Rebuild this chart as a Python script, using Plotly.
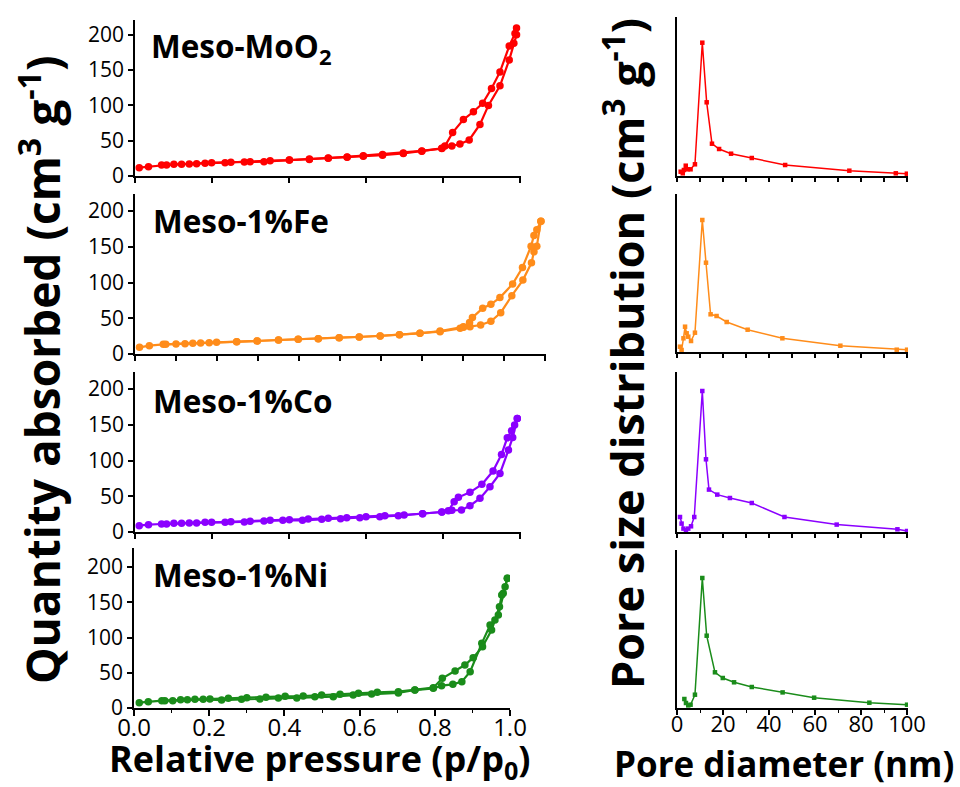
import plotly.graph_objects as go

W, H = 960, 787

# ---------------- Isotherm data (relative pressure, quantity adsorbed) ----------------
moo2_ads_p = [0.011, 0.035, 0.069, 0.101, 0.141, 0.182, 0.234, 0.284, 0.335, 0.401, 0.453, 0.502, 0.551,
              0.593, 0.643, 0.697, 0.745, 0.797, 0.823, 0.844, 0.868, 0.896, 0.918, 0.948, 0.972, 0.984, 0.991]
moo2_ads_q = [11.8, 13.2, 15.6, 16.6, 17.0, 18.0, 18.9, 19.9, 20.3, 22.7, 24.1, 25.5, 27.0,
              28.8, 30.3, 32.6, 35.5, 39.2, 42.6, 45.4, 51.0, 73.0, 100.0, 127.7, 164.5, 188.0, 200.0]
moo2_des_p = [0.991, 0.987, 0.972, 0.948, 0.926, 0.903, 0.879, 0.853, 0.825, 0.805, 0.797, 0.745, 0.697,
              0.643, 0.593, 0.551, 0.502, 0.453, 0.401, 0.351, 0.299, 0.249, 0.199, 0.160, 0.121, 0.082]
moo2_des_q = [209.5, 202.0, 184.0, 147.5, 124.0, 103.0, 91.0, 80.0, 61.5, 42.6, 39.0, 35.0, 32.0,
              29.5, 28.0, 26.5, 25.0, 23.5, 22.5, 21.7, 20.3, 19.5, 18.9, 17.5, 16.6, 15.6]

fe_ads_p = [0.011, 0.035, 0.069, 0.100, 0.141, 0.181, 0.248, 0.298, 0.350, 0.398, 0.447, 0.498, 0.547,
            0.598, 0.645, 0.695, 0.744, 0.793, 0.801, 0.817, 0.843, 0.868, 0.892, 0.919, 0.946, 0.967,
            0.973, 0.980, 0.990]
fe_ads_q = [9.3, 11.7, 13.5, 14.0, 15.0, 15.9, 17.3, 18.2, 19.6, 20.5, 21.5, 22.8, 23.8,
            25.2, 27.0, 28.9, 31.2, 35.9, 37.3, 38.2, 40.6, 45.7, 57.8, 81.6, 103.5, 127.7,
            143.0, 151.0, 186.0]
fe_des_p = [0.990, 0.980, 0.973, 0.966, 0.945, 0.921, 0.890, 0.868, 0.848, 0.823, 0.816, 0.801, 0.744,
            0.695, 0.645, 0.598, 0.547, 0.498, 0.447, 0.398, 0.350, 0.298, 0.248, 0.199, 0.160, 0.122, 0.075]
fe_des_q = [186.0, 174.0, 166.0, 151.0, 121.0, 98.0, 79.0, 69.5, 64.0, 51.0, 44.0, 38.0, 32.2,
            28.9, 27.0, 25.2, 23.8, 22.8, 21.5, 20.5, 19.6, 18.2, 17.3, 16.3, 15.4, 14.5, 13.5]

co_ads_p = [0.011, 0.035, 0.069, 0.101, 0.141, 0.182, 0.234, 0.284, 0.335, 0.384, 0.435, 0.485, 0.534,
            0.584, 0.636, 0.684, 0.747, 0.797, 0.823, 0.848, 0.870, 0.896, 0.922, 0.948, 0.970, 0.981, 0.993]
co_ads_q = [8.9, 10.3, 11.2, 12.1, 12.6, 13.5, 13.5, 14.0, 15.4, 16.3, 16.3, 17.7, 18.7,
            20.1, 21.5, 22.9, 25.6, 28.0, 30.3, 30.8, 36.8, 47.1, 63.4, 82.0, 114.7, 132.4, 159.0]
co_des_p = [0.993, 0.986, 0.978, 0.967, 0.952, 0.930, 0.901, 0.870, 0.840, 0.829, 0.814, 0.797, 0.747,
            0.699, 0.649, 0.600, 0.550, 0.502, 0.450, 0.401, 0.351, 0.299, 0.249, 0.199, 0.160, 0.121, 0.082]
co_des_q = [159.0, 149.7, 141.7, 131.9, 108.6, 85.3, 66.7, 55.5, 48.5, 42.4, 29.8, 28.0, 25.6,
            23.8, 22.9, 21.5, 20.1, 19.1, 18.2, 17.2, 16.3, 15.0, 14.5, 13.5, 12.6, 12.1, 11.2]

ni_ads_p = [0.014, 0.038, 0.074, 0.103, 0.142, 0.184, 0.233, 0.286, 0.335, 0.384, 0.433, 0.481, 0.530,
            0.583, 0.632, 0.703, 0.747, 0.796, 0.818, 0.848, 0.872, 0.894, 0.925, 0.947, 0.969, 0.982, 0.993]
ni_ads_q = [7.6, 9.0, 10.4, 10.4, 11.8, 12.3, 11.3, 12.3, 12.8, 14.2, 14.2, 16.0, 16.0,
            18.4, 19.9, 21.3, 25.5, 27.9, 31.7, 33.6, 37.4, 51.5, 91.7, 117.7, 131.9, 162.7, 184.0]
ni_des_p = [0.993, 0.987, 0.978, 0.972, 0.960, 0.951, 0.927, 0.902, 0.880, 0.854, 0.820, 0.796, 0.747,
            0.703, 0.647, 0.597, 0.548, 0.499, 0.450, 0.402, 0.351, 0.300, 0.251, 0.202, 0.162, 0.124, 0.082]
ni_des_q = [184.0, 172.0, 160.3, 143.7, 124.8, 110.6, 87.0, 71.4, 61.0, 52.5, 42.1, 28.8, 25.5,
            23.2, 22.2, 20.8, 19.4, 18.4, 17.0, 16.5, 15.2, 14.7, 13.7, 12.8, 12.3, 11.8, 10.4]

# ---------------- Pore size distribution data (diameter nm, relative dV) ----------------
moo2_d = [1.6, 2.5, 3.0, 3.8, 4.6, 5.9, 7.8, 11.0, 12.9, 15.2, 18.3, 23.5, 32.5, 47.0, 74.9, 95.1, 99.9]
moo2_v = [4.3, 2.7, 6.0, 10.3, 6.7, 6.7, 11.7, 133.3, 73.7, 32.3, 27.0, 22.3, 18.0, 11.0, 5.3, 2.7, 2.3]

fe_d = [1.3, 2.0, 2.8, 3.5, 4.2, 4.9, 6.1, 7.8, 11.0, 12.6, 14.6, 17.2, 21.6, 30.7, 45.8, 71.0, 95.5, 100.0]
fe_v = [5.3, 2.0, 13.7, 25.3, 18.7, 15.3, 11.0, 19.3, 132.0, 89.3, 37.7, 36.0, 30.0, 22.3, 13.7, 6.3, 2.3, 2.3]

co_d = [1.3, 2.0, 2.8, 3.9, 4.9, 6.1, 7.5, 11.0, 12.6, 13.9, 17.5, 23.0, 32.5, 46.7, 69.4, 95.8, 100.0]
co_v = [15.0, 8.4, 3.4, 1.7, 3.4, 5.7, 15.0, 141.0, 72.7, 42.4, 37.4, 34.0, 29.0, 15.0, 7.4, 2.7, 1.0]

ni_d = [3.2, 3.9, 4.9, 5.9, 7.8, 11.0, 12.9, 16.5, 19.9, 24.8, 32.5, 45.9, 59.6, 83.6, 100.0]
ni_v = [9.0, 5.0, 2.6, 3.3, 13.3, 130.0, 72.3, 35.7, 30.0, 25.7, 21.0, 15.6, 10.3, 5.3, 3.3]

labels = ["Meso-MoO<sub>2</sub>", "Meso-1%Fe", "Meso-1%Co", "Meso-1%Ni"]
colors = ["#FF0000", "#FF8C1A", "#8B00FF", "#1A8C1A"]

iso = [(moo2_ads_p, moo2_ads_q, moo2_des_p, moo2_des_q),
       (fe_ads_p, fe_ads_q, fe_des_p, fe_des_q),
       (co_ads_p, co_ads_q, co_des_p, co_des_q),
       (ni_ads_p, ni_ads_q, ni_des_p, ni_des_q)]
psd = [(moo2_d, moo2_v), (fe_d, fe_v), (co_d, co_v), (ni_d, ni_v)]

# ---------------- layout geometry (pixels) ----------------
left_x = [(135, 521, 1.0026, 0.2), (135, 546, 1.0024, 0.1), (135, 521, 1.0026, 0.2), (134, 510, 1.0, 0.2)]
left_y = [(20, 176, 221), (194, 354, 224), (372, 532, 224), (548, 708, 227)]
right_x = (677, 908, 100.4)
right_y = [(17, 176, 159), (194, 352, 158), (372, 532, 160), (550, 708, 158)]

def fx(px):
    return px / W

def fy(py):
    return 1 - py / H

fig = go.Figure()
layout = dict(width=W, height=H, autosize=False,
              margin=dict(l=0, r=0, t=0, b=0, pad=0, autoexpand=False),
              paper_bgcolor="white", plot_bgcolor="white", showlegend=False,
              font=dict(family="Open Sans, Noto Sans, sans-serif", color="black"))

tickfont = dict(family="Open Sans, Noto Sans, sans-serif", size=21, color="black")
axis_common = dict(showgrid=False, zeroline=False, showline=True, linecolor="black", linewidth=1.5,
                   ticks="outside", ticklen=5, tickwidth=1.5, tickcolor="black", tickfont=tickfont,
                   automargin=False)

for i in range(4):
    ax_n = i + 1
    sfx = '' if ax_n == 1 else str(ax_n)
    x0, x1, xmax, dt = left_x[i]
    y0, y1, ymax = left_y[i]
    xdict = dict(axis_common, domain=[fx(x0), fx(x1)], range=[0, xmax], anchor=f"y{sfx}",
                 tick0=0, dtick=dt)
    if i == 3:
        xdict.update(showticklabels=True, tickformat=".1f", ticklen=6, ticklabelstandoff=-9,
                     minor=dict(dtick=0.1, ticks="outside", ticklen=3, tickwidth=1.2, tickcolor="black"),
                     tickfont=dict(tickfont, size=24))
    else:
        xdict.update(showticklabels=False)
    layout[f"xaxis{sfx}"] = xdict
    layout[f"yaxis{sfx}"] = dict(axis_common, domain=[fy(y1), fy(y0)], range=[0, ymax],
                                 anchor=f"x{sfx}", tick0=0, dtick=50, ticklen=5)
    ap, aq, dp, dq = iso[i]
    for px_, qy_ in ((ap, aq), (dp, dq)):
        fig.add_trace(go.Scatter(x=px_, y=qy_, mode="lines+markers", xaxis=f"x{sfx}", yaxis=f"y{sfx}",
                                 line=dict(color=colors[i], width=2.2),
                                 marker=dict(color=colors[i], size=7.5, symbol="circle")))

    # right panels
    rn = i + 5
    rx0, rx1, rxmax = right_x
    ry0, ry1, rymax = right_y[i]
    rxd = dict(axis_common, domain=[fx(rx0), fx(rx1)], range=[0, rxmax], anchor=f"y{rn}",
               tick0=0, dtick=10, showticklabels=False, ticklen=4)
    if i == 3:
        rxd.update(dtick=20, showticklabels=True, ticklen=5, ticklabelstandoff=-9,
                   tickfont=dict(tickfont, size=22),
                   minor=dict(dtick=10, ticks="outside", ticklen=3, tickwidth=1.2, tickcolor="black"))
    layout[f"xaxis{rn}"] = rxd
    layout[f"yaxis{rn}"] = dict(axis_common, domain=[fy(ry1), fy(ry0)], range=[0, rymax],
                                anchor=f"x{rn}", ticks="", showticklabels=False)
    d, v = psd[i]
    fig.add_trace(go.Scatter(x=d, y=v, mode="lines+markers", xaxis=f"x{rn}", yaxis=f"y{rn}",
                             line=dict(color=colors[i], width=1.5),
                             marker=dict(color=colors[i], size=4.5, symbol="square")))

annotations = []
label_pos = [(149, 47), (151, 220), (151, 400), (151, 574)]
for i, lab in enumerate(labels):
    lx, ly = label_pos[i]
    annotations.append(dict(text=f"<b>{lab}</b>", xref="paper", yref="paper", x=fx(lx), y=fy(ly),
                            xanchor="left", yanchor="middle", showarrow=False,
                            font=dict(family="Open Sans, sans-serif", size=31.5, color="black")))

title_font = dict(family="Open Sans, sans-serif", size=46, color="black")
annotations.append(dict(text="<b>Quantity absorbed (cm<sup>3</sup> g<sup>-1</sup>)</b>", xref="paper", yref="paper",
                        x=fx(40), y=fy(370), xanchor="center", yanchor="middle", textangle=-90,
                        showarrow=False, font=title_font))
annotations.append(dict(text="<b>Pore size distribution (cm<sup>3</sup> g<sup>-1</sup>)</b>", xref="paper", yref="paper",
                        x=fx(624), y=fy(354), xanchor="center", yanchor="middle", textangle=-90,
                        showarrow=False, font=dict(title_font, size=45)))
annotations.append(dict(text="<b>Relative pressure (p/p<sub>0</sub>)</b>", xref="paper", yref="paper",
                        x=fx(320), y=fy(760), xanchor="center", yanchor="middle",
                        showarrow=False, font=dict(title_font, size=36)))
annotations.append(dict(text="<b>Pore diameter (nm)</b>", xref="paper", yref="paper",
                        x=fx(784), y=fy(763), xanchor="center", yanchor="middle",
                        showarrow=False, font=dict(title_font, size=35)))
layout["annotations"] = annotations
fig.update_layout(**layout)
fig.write_html("out.html")
